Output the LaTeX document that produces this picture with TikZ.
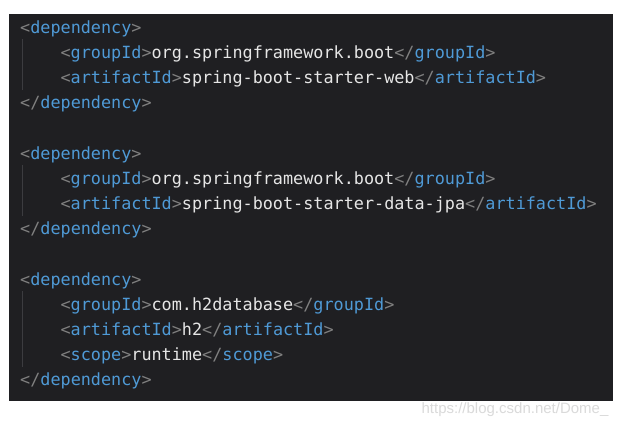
\documentclass[tikz,border=0pt]{standalone}
\usepackage{fontspec}
\setmonofont{DejaVu Sans Mono}
\newfontfamily\wmfont{Liberation Sans}
\definecolor{codebg}{HTML}{1F1F22}
\definecolor{tagblue}{HTML}{4F9AD6}
\definecolor{brk}{HTML}{808080}
\definecolor{txt}{HTML}{E6E6E6}
\definecolor{guide}{HTML}{3C3C40}
\definecolor{wm}{HTML}{DADADA}
\newcommand\ot[1]{{\color{brk}<}{\color{tagblue}#1}{\color{brk}>}}
\newcommand\ct[1]{{\color{brk}</}{\color{tagblue}#1}{\color{brk}>}}
\begin{document}
\begin{tikzpicture}[x=1bp,y=-1bp,
  codeline/.style={anchor=base west,inner sep=0pt,text=txt,
    font=\ttfamily\fontsize{16.8bp}{20bp}\selectfont},
  guideline/.style={draw=guide,line width=0.8bp}]
\useasboundingbox (0,0) rectangle (622,428);
\fill[white] (0,0) rectangle (622,428);
\fill[codebg] (9,14) rectangle (613,401);
% indent guides
\draw[guideline] (22,39) -- (22,90);
\draw[guideline] (22,165) -- (22,216);
\draw[guideline] (22,291) -- (22,367);
% code lines
\node[codeline] (l1) at (20,33) {\ot{dependency}};
\node[codeline] (l2) at (60.4,58.2) {\ot{groupId}org.springframework.boot\ct{groupId}};
\node[codeline] (l3) at (60.4,83.4) {\ot{artifactId}spring-boot-starter-web\ct{artifactId}};
\node[codeline] (l4) at (20,108.6) {\ct{dependency}};
\node[codeline] (l6) at (20,159) {\ot{dependency}};
\node[codeline] (l7) at (60.4,184.2) {\ot{groupId}org.springframework.boot\ct{groupId}};
\node[codeline] (l8) at (60.4,209.4) {\ot{artifactId}spring-boot-starter-data-jpa\ct{artifactId}};
\node[codeline] (l9) at (20,234.6) {\ct{dependency}};
\node[codeline] (l11) at (20,285) {\ot{dependency}};
\node[codeline] (l12) at (60.4,310.2) {\ot{groupId}com.h2database\ct{groupId}};
\node[codeline] (l13) at (60.4,335.4) {\ot{artifactId}h2\ct{artifactId}};
\node[codeline] (l14) at (60.4,360.6) {\ot{scope}runtime\ct{scope}};
\node[codeline] (l15) at (20,385.8) {\ct{dependency}};
% watermark
\node[inner sep=0pt,text=wm,font=\wmfont\fontsize{15bp}{18bp}\selectfont] (wm) at (515,410) {https://blog.csdn.net/Dome\_};
\end{tikzpicture}
\end{document}
